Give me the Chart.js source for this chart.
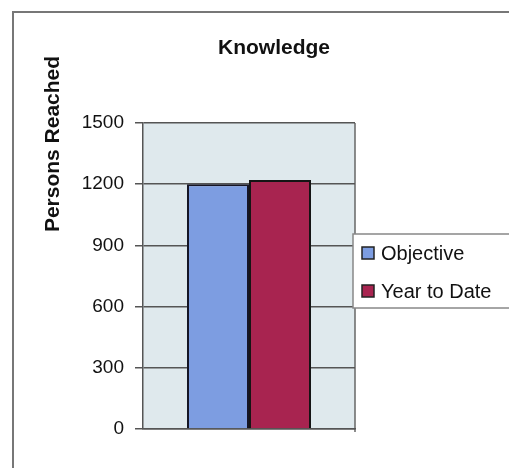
<!DOCTYPE html>
<html>
<head>
<meta charset="utf-8">
<script src="https://cdn.jsdelivr.net/npm/chart.js@4/dist/chart.umd.min.js"></script>
<style>
	html, body { margin: 0; padding: 0; background: #fff; }
	canvas { display: block; }
</style>
</head>
<body>
<canvas id="knowledgeChart" width="509" height="468"></canvas>
<script>
// data
const categories = ['Knowledge'];
const seriesNames = ['Objective', 'Year to Date'];
const objective = [1200];
const yearToDate = [1220];
const yTicks = [0, 300, 600, 900, 1200, 1500];

const chartTitle = 'Knowledge';
const yTitle = 'Persons Reached';
const barColors = ['rgb(125, 157, 225)', 'rgb(168, 36, 80)'];

// background, frame, title, axis title and boxed legend
const decor = {
	id: 'decor',
	beforeDraw(chart) {
		const ctx = chart.ctx;
		const a = chart.chartArea;
		ctx.save();
		ctx.fillStyle = 'rgb(223, 233, 237)';
		ctx.fillRect(a.left, a.top, a.right - a.left, a.bottom - a.top);
		ctx.strokeStyle = '#666';
		ctx.lineWidth = 1.5;
		ctx.beginPath();
		ctx.moveTo(a.right, a.top);
		ctx.lineTo(a.right, a.bottom + 3);
		ctx.stroke();
		// outer frame
		ctx.strokeStyle = '#777';
		ctx.lineWidth = 2;
		ctx.beginPath();
		ctx.moveTo(13, 470);
		ctx.lineTo(13, 12);
		ctx.lineTo(512, 12);
		ctx.stroke();
		ctx.restore();
	},
	afterDraw(chart) {
		const ctx = chart.ctx;
		ctx.save();
		ctx.fillStyle = '#111';
		ctx.textAlign = 'center';
		ctx.textBaseline = 'middle';
		ctx.font = 'bold 21px "Liberation Sans", Arial, sans-serif';
		ctx.fillText(chartTitle, 274, 48);

		ctx.translate(53, 144);
		ctx.rotate(-Math.PI / 2);
		ctx.font = 'bold 21px "Liberation Sans", Arial, sans-serif';
		ctx.fillText(yTitle, 0, 0);
		ctx.restore();

		// legend
		ctx.save();
		ctx.fillStyle = '#fff';
		ctx.fillRect(353, 234, 160, 74);
		ctx.strokeStyle = '#888';
		ctx.lineWidth = 1.5;
		ctx.strokeRect(353, 234, 160, 74);
		ctx.font = '20px "Liberation Sans", Arial, sans-serif';
		ctx.textAlign = 'left';
		ctx.textBaseline = 'middle';
		const rowY = [253, 291];
		chart.data.datasets.forEach((ds, i) => {
			ctx.fillStyle = ds.backgroundColor;
			ctx.fillRect(362, rowY[i] - 6, 12, 12);
			ctx.strokeStyle = '#222';
			ctx.lineWidth = 1.5;
			ctx.strokeRect(362, rowY[i] - 6, 12, 12);
			ctx.fillStyle = '#111';
			ctx.fillText(ds.label, 381, rowY[i] + 1);
		});
		ctx.restore();
	}
};

const ctx = document.getElementById('knowledgeChart').getContext('2d');
new Chart(ctx, {
	type: 'bar',
	data: {
		labels: categories,
		datasets: [{
			label: seriesNames[0],
			data: objective,
			backgroundColor: barColors[0],
			borderColor: '#151525',
			borderWidth: 2
		}, {
			label: seriesNames[1],
			data: yearToDate,
			backgroundColor: barColors[1],
			borderColor: '#151515',
			borderWidth: 2
		}]
	},
	options: {
		responsive: false,
		maintainAspectRatio: false,
		animation: false,
		devicePixelRatio: 1,
		layout: {
			padding: { left: 0, top: 123, right: 154, bottom: 39 }
		},
		categoryPercentage: 0.585,
		barPercentage: 1,
		plugins: {
			legend: { display: false },
			title: { display: false },
			tooltip: { enabled: false }
		},
		scales: {
			x: {
				ticks: { display: false },
				grid: { display: false, drawTicks: false },
				border: { display: true, color: '#555', width: 1.5 },
				afterFit(scale) { scale.height = 0; }
			},
			y: {
				min: 0,
				max: 1500,
				afterBuildTicks(scale) {
					scale.ticks = yTicks.map(v => ({ value: v }));
				},
				ticks: {
					color: '#111',
					padding: 11,
					font: { family: '"Liberation Sans", Arial, sans-serif', size: 19 },
					callback: v => String(v)
				},
				grid: {
					color: '#555',
					lineWidth: 1.5,
					tickLength: 8
				},
				border: { display: true, color: '#555', width: 1.5 },
				afterFit(scale) { scale.width = 143; }
			}
		}
	},
	plugins: [decor]
});
</script>
</body>
</html>
